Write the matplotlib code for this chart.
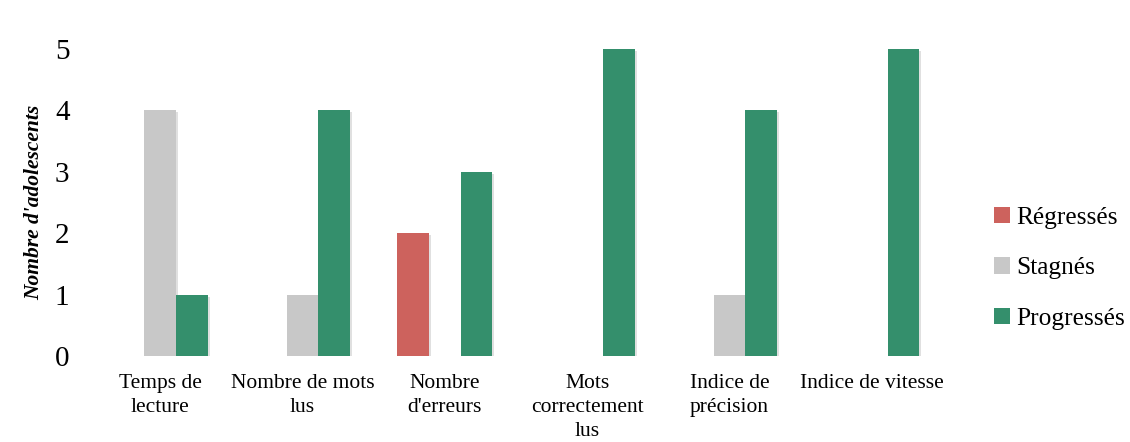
import matplotlib
matplotlib.use("Agg")
import matplotlib.pyplot as plt
import matplotlib.patheffects as pe
from matplotlib.patches import Patch
import numpy as np

categories = ["Temps de\nlecture", "Nombre de mots\nlus", "Nombre\nd'erreurs",
              "Mots\ncorrectement\nlus", "Indice de\nprécision", "Indice de vitesse"]
series_names = ["Régressés", "Stagnés", "Progressés"]
regresses = [0, 0, 2, 0, 0, 0]
stagnes = [4, 1, 0, 0, 1, 0]
progresses = [1, 4, 3, 5, 4, 5]
yticks = [0, 1, 2, 3, 4, 5]

colors = ["#CD625D", "#C8C8C8", "#348F6C"]

plt.rcParams['font.family'] = ['Liberation Serif', 'DejaVu Serif']

fig = plt.figure(figsize=(11.3, 4.42), dpi=100)
ax = fig.add_axes([89/1130, 86/442, (943-89)/1130, (356-49)/442])

x = np.arange(len(categories))
w = 0.222
shadow = [pe.SimplePatchShadow(offset=(1.5, -1.5), shadow_rgbFace='#000000', alpha=0.12), pe.Normal()]
for i, vals in enumerate([regresses, stagnes, progresses]):
    bars = ax.bar(x + (i - 1) * w, vals, width=w, color=colors[i], linewidth=0)
    for b, v in zip(bars, vals):
        if v > 0:
            b.set_path_effects(shadow)

ax.set_xlim(-0.5, len(categories) - 0.5)
ax.set_ylim(0, 5)
ax.set_yticks(yticks)
ax.set_yticklabels([str(t) for t in yticks], fontsize=21)
ax.set_xticks(x)
ax.set_xticklabels(categories, fontsize=15.5, linespacing=1.35)
ax.tick_params(axis='x', length=0, pad=13)
ax.tick_params(axis='y', length=0, pad=14)
for s in ax.spines.values():
    s.set_visible(False)

ax.set_ylabel("Nombre d'adolescents", fontsize=15.5, fontstyle='italic', fontweight='bold')
ax.yaxis.set_label_coords(-0.052, 0.5)

handles = [Patch(facecolor=c, edgecolor='none') for c in colors]
fig.legend(handles, series_names, loc='center left', bbox_to_anchor=(994/1130, 0.393),
           frameon=False, fontsize=18.3, handlelength=0.62, handleheight=0.62,
           handletextpad=0.25, labelspacing=1.12, borderpad=0, borderaxespad=0)

fig.savefig("out.png", dpi=100)
